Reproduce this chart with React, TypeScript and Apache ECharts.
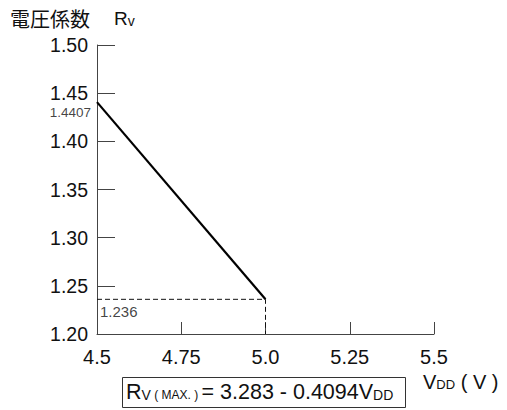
import React, { useEffect, useRef } from "react";
import * as echarts from "echarts";

// Supply voltage range (V) and the voltage coefficient Rv(max) at its ends
const vddValues = [4.5, 5.0];
const rvValues = [1.4407, 1.236];
// Guide lines down to the axes from the 5.0 V point
const guideX = [4.5, 5.0, 5.0];
const guideY = [1.236, 1.236, 1.2];
const xTickLabels = ["4.5", "4.75", "5.0", "5.25", "5.5"];
const yTickLabels = ["1.20", "1.25", "1.30", "1.35", "1.40", "1.45", "1.50"];

const FONT = "'Liberation Sans', Arial, Helvetica, sans-serif";

export default function App() {
  const ref = useRef<HTMLDivElement>(null);

  useEffect(() => {
    if (!ref.current) return;
    const chart = echarts.init(ref.current, null, { renderer: "svg" });

    const mainData = vddValues.map((v, i) => [v, rvValues[i]]);
    const guideData = guideX.map((v, i) => [v, guideY[i]]);

    chart.setOption({
      animation: false,
      backgroundColor: "#ffffff",
      textStyle: { fontFamily: FONT },
      grid: { left: 97, right: 73, top: 45, bottom: 76, containLabel: false },
      xAxis: {
        type: "value",
        min: 4.5,
        max: 5.5,
        interval: 0.25,
        splitLine: { show: false },
        axisLine: { lineStyle: { color: "#444", width: 1 } },
        axisTick: { inside: true, length: 12, lineStyle: { color: "#444" } },
        axisLabel: {
          color: "#111",
          fontSize: 20,
          lineHeight: 16,
          fontFamily: FONT,
          margin: 15,
          formatter: (v: number) => xTickLabels[Math.round((v - 4.5) / 0.25)] ?? "",
        },
      },
      yAxis: {
        type: "value",
        min: 1.2,
        max: 1.5,
        interval: 0.05,
        splitLine: { show: false },
        axisLine: { lineStyle: { color: "#444", width: 1 } },
        axisTick: { inside: true, length: 18, lineStyle: { color: "#444" } },
        axisLabel: {
          color: "#111",
          fontSize: 19.5,
          lineHeight: 16,
          fontFamily: FONT,
          margin: 9,
          formatter: (v: number) => yTickLabels[Math.round((v - 1.2) / 0.05)] ?? "",
        },
      },
      series: [
        {
          type: "line",
          data: guideData,
          symbol: "none",
          silent: true,
          lineStyle: { color: "#111", width: 1, type: [5, 3] },
        },
        {
          type: "line",
          data: mainData,
          symbol: "none",
          silent: true,
          lineStyle: { color: "#000", width: 2.2 },
        },
        {
          // value labels anchored to the data points
          type: "scatter",
          symbolSize: 0,
          silent: true,
          data: [
            {
              value: [vddValues[0], rvValues[0]],
              label: {
                show: true,
                formatter: String(rvValues[0]),
                position: "left",
                offset: [-1, 10],
                fontSize: 13.5,
                lineHeight: 11,
                color: "#111",
                fontFamily: FONT,
              },
            },
            {
              value: [vddValues[0], rvValues[1]],
              label: {
                show: true,
                formatter: String(rvValues[1]),
                position: [3, 5],
                align: "left",
                verticalAlign: "top",
                fontSize: 15,
                color: "#111",
                fontFamily: FONT,
              },
            },
          ],
        },
      ],
      graphic: [
        {
          type: "text",
          left: 10,
          top: 8,
          style: {
            text: "{t|電圧係数}{r|R}{s|v}",
            rich: {
              t: { fontSize: 20, fontFamily: "'Noto Sans CJK JP', sans-serif", fill: "#111" },
              r: { fontSize: 19, fontFamily: FONT, fill: "#111", padding: [1, 0, 0, 24] },
              s: { fontSize: 14, fontFamily: FONT, fill: "#111", padding: [5, 0, 0, 0] },
            },
          },
        },
        {
          type: "rect",
          shape: { x: 122.5, y: 377.5, width: 283, height: 30 },
          style: { fill: "#fff", stroke: "#333", lineWidth: 1 },
        },
        {
          type: "text",
          x: 126,
          y: 392,
          style: {
            text: "{b|R}{m|V}{p| ( MAX. ) }{b|= 3.283 - 0.4094V}{m|DD}",
            verticalAlign: "middle",
            rich: {
              b: { fontSize: 21.5, fontFamily: FONT, fill: "#111" },
              m: { fontSize: 14, fontFamily: FONT, fill: "#111", padding: [5, 0, 0, 0] },
              p: { fontSize: 12, fontFamily: FONT, fill: "#111", padding: [5, 0, 0, 0] },
            },
          },
        },
        {
          type: "text",
          x: 423,
          y: 382,
          style: {
            text: "{b|V}{m|DD}{b| ( V )}",
            verticalAlign: "middle",
            rich: {
              b: { fontSize: 20, fontFamily: FONT, fill: "#111" },
              m: { fontSize: 13, fontFamily: FONT, fill: "#111", padding: [4, 0, 0, 0] },
            },
          },
        },
      ],
    });

    return () => chart.dispose();
  }, []);

  return (
    <div
      ref={ref}
      style={{ position: "fixed", left: 0, top: 0, width: 507, height: 410 }}
    />
  );
}
